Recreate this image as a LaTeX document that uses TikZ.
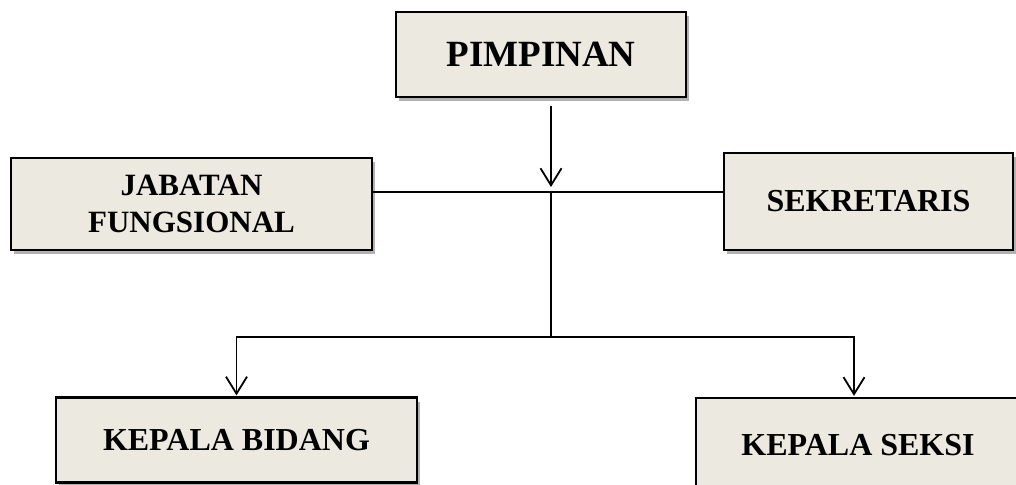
\documentclass[tikz,border=0pt]{standalone}
\usepackage{fontspec}
\setmainfont{Liberation Serif}
\usetikzlibrary{arrows.meta,shadows}
\definecolor{boxfill}{RGB}{236,234,224}
\tikzset{
  orgbox/.style={draw=black, line width=2.2pt, fill=boxfill, rectangle,
    inner sep=0pt, align=center,
    font=\fontsize{32}{37}\selectfont\bfseries,
    drop shadow={shadow xshift=2.5pt, shadow yshift=-4pt, fill=black!60, opacity=0.5}},
  link/.style={draw=black, line width=1.8pt},
  arr/.style={link, -{Straight Barb[length=17pt,width=21pt,line width=1.8pt]}}
}
\begin{document}
\begin{tikzpicture}[x=1pt,y=-1pt]
\useasboundingbox (0,0) rectangle (1016,484);
\clip (0,0) rectangle (1016,484);
\fill[white] (0,0) rectangle (1016,484);
\node[orgbox, minimum width=290pt, minimum height=85pt,
      font=\fontsize{37}{42}\selectfont\bfseries] (P) at (541,54.5) {PIMPINAN};
\node[orgbox, minimum width=361pt, minimum height=92pt,
      font=\fontsize{31}{37}\selectfont\bfseries] (J) at (191.5,204) {JABATAN\\FUNGSIONAL};
\node[orgbox, minimum width=289pt, minimum height=97pt] (S) at (868.5,201.5) {SEKRETARIS};
\node[orgbox, minimum width=361pt, minimum height=85pt] (KB) at (236.5,440) {KEPALA BIDANG};
\node[orgbox, minimum width=324pt, minimum height=94pt] (KS) at (858,445) {KEPALA SEKSI};
\coordinate (t) at (551,187);
\coordinate (h) at (551,192);
\coordinate (m) at (551,337);
\draw[arr] ([yshift=-8pt]P.south -| t) -- (t);
\draw[link] (J.east |- h) -- (S.west |- h);
\draw[link] (h) -- (m);
\draw[arr] (m) -| ([yshift=1pt]KB.north);
\draw[arr] (m) -| ([xshift=-4pt,yshift=1pt]KS.north);
\end{tikzpicture}
\end{document}
